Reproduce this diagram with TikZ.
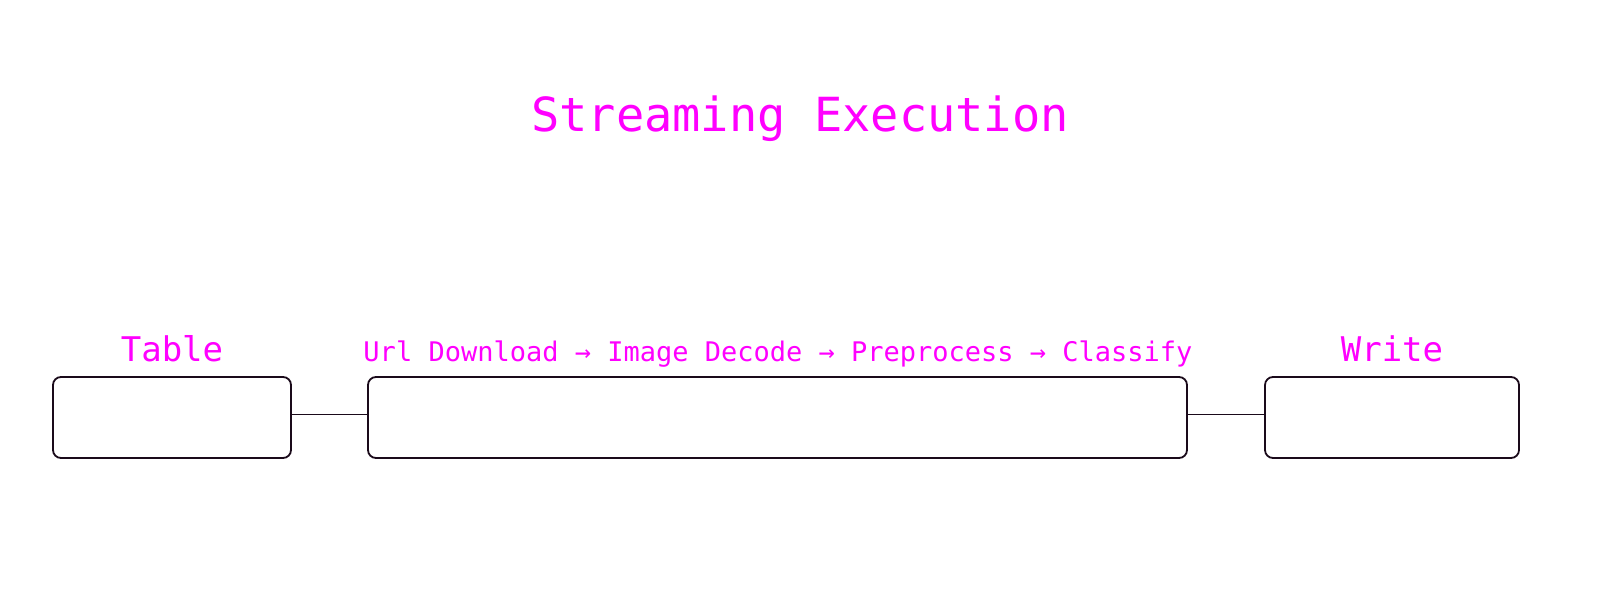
\documentclass[tikz,border=0pt]{standalone}
\usepackage{fontspec}
\setmonofont{DejaVu Sans Mono}
\definecolor{mag}{HTML}{FF00FF}
\definecolor{boxline}{HTML}{1A0A1A}
\begin{document}
\begin{tikzpicture}[x=1pt,y=-1pt,
  stage/.style={draw=boxline,line width=1.8pt,rounded corners=8pt,fill=white},
  lbl/.style={text=mag,font=\ttfamily\fontsize{27}{30}\selectfont,anchor=base,inner sep=0pt},
  biglbl/.style={text=mag,font=\ttfamily\fontsize{34}{38}\selectfont,anchor=base,inner sep=0pt},
  ttl/.style={text=mag,font=\ttfamily\fontsize{47}{52}\selectfont,anchor=base,inner sep=0pt},
  link/.style={draw=boxline,line width=0.9pt}]
\useasboundingbox (0,0) rectangle (1600,600);
\node[ttl] (title) at (800,131) {Streaming Execution};
\draw[stage] (53,377) rectangle (291,458);
\draw[stage] (368,377) rectangle (1187,458);
\draw[stage] (1265,377) rectangle (1519,458);
\node[inner sep=0pt,minimum width=238pt,minimum height=81pt] (table) at (172,417.5) {};
\node[inner sep=0pt,minimum width=819pt,minimum height=81pt] (pipe) at (777.5,417.5) {};
\node[inner sep=0pt,minimum width=254pt,minimum height=81pt] (write) at (1392,417.5) {};
\node[biglbl] (tablelbl) at (172,361) {Table};
\node[lbl] (pipelbl) at (778,361) {Url Download → Image Decode → Preprocess → Classify};
\node[biglbl] (writelbl) at (1392,361) {Write};
\draw[link] ([yshift=3pt]table.east) -- ([yshift=3pt]pipe.west);
\draw[link] ([yshift=3pt]pipe.east) -- ([yshift=3pt]write.west);
\end{tikzpicture}
\end{document}
